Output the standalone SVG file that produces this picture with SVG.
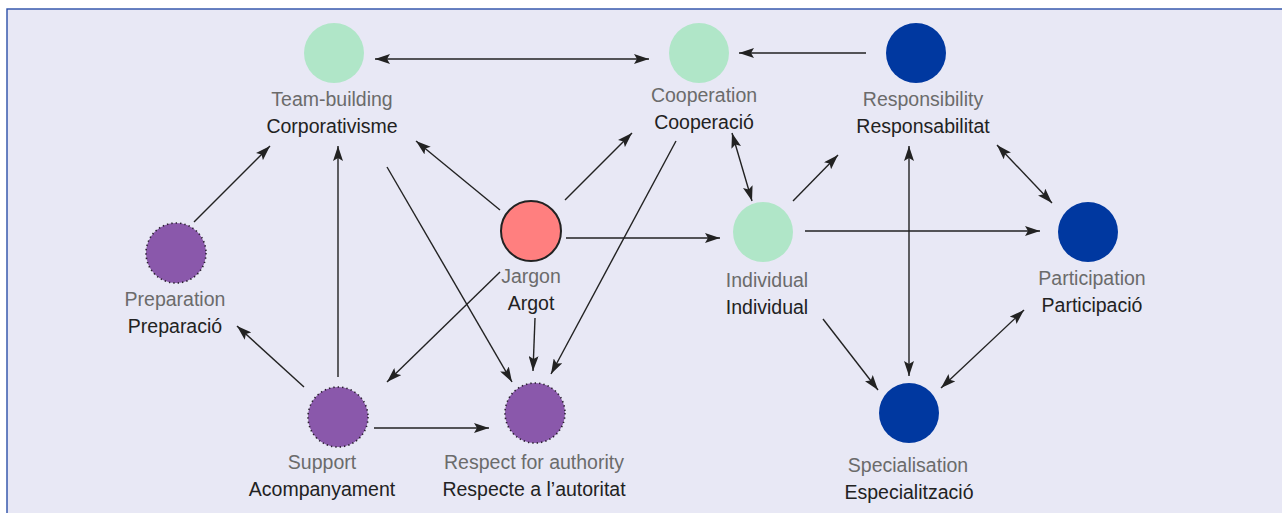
<svg xmlns="http://www.w3.org/2000/svg" width="1282" height="513" viewBox="0 0 1282 513">
<style>
.en{font-family:"Liberation Sans",Arial,sans-serif;font-size:19.5px;fill:#6b6b6b;text-anchor:middle}
.ca{font-family:"Liberation Sans",Arial,sans-serif;font-size:19.5px;fill:#222;text-anchor:middle}
.green{fill:#b0e6c8}
.blue{fill:#0038a0}
.purple{fill:#8a58ab;stroke:#2a2030;stroke-width:1.6;stroke-dasharray:1.4 3}
.red{fill:#ff7f7f;stroke:#222;stroke-width:2}
.c line{stroke:#222;stroke-width:1.4;fill:none}
.one{marker-end:url(#ah)}
.two{marker-end:url(#ah);marker-start:url(#ah)}
</style>
<defs>
<marker id="ah" viewBox="0 0 15 10" refX="15" refY="5" markerWidth="15" markerHeight="10" orient="auto-start-reverse" markerUnits="userSpaceOnUse">
<path d="M0,0 L15,5 L0,10 L3,5 z" fill="#222"/>
</marker>
</defs>
<rect x="0" y="0" width="1282" height="513" fill="#ffffff"/>
<rect x="7" y="9" width="1300" height="600" fill="#e8e8f5" stroke="#2b4fa8" stroke-width="1.4"/>
<g id="connectors" class="c">
<line class="two" x1="375" y1="59" x2="649" y2="59"/>
<line class="one" x1="866" y1="53" x2="739" y2="53"/>
<line class="one" x1="500" y1="210" x2="416" y2="141"/>
<line class="one" x1="565" y1="200" x2="632" y2="133"/>
<line class="one" x1="566" y1="238" x2="720" y2="238"/>
<line class="one" x1="500" y1="272" x2="387" y2="382"/>
<line class="one" x1="535" y1="318" x2="533" y2="371"/>
<line class="one" x1="676" y1="141" x2="551" y2="374"/>
<line class="one" x1="387" y1="167" x2="512" y2="382"/>
<line class="one" x1="338" y1="377" x2="338" y2="146"/>
<line class="one" x1="194" y1="222" x2="270" y2="146"/>
<line class="one" x1="304" y1="387" x2="237" y2="326"/>
<line class="one" x1="374" y1="428" x2="489" y2="428"/>
<line class="two" x1="732" y1="133" x2="752" y2="201"/>
<line class="one" x1="793" y1="201" x2="838" y2="155"/>
<line class="one" x1="805" y1="231" x2="1040" y2="231"/>
<line class="two" x1="909" y1="146" x2="909" y2="376"/>
<line class="two" x1="997" y1="145" x2="1052" y2="203"/>
<line class="one" x1="823" y1="319" x2="878" y2="390"/>
<line class="two" x1="1024" y1="310" x2="941" y2="388"/>
</g>
<g id="team-building">
<circle class="green" cx="334" cy="53" r="30"/>
<text class="en" x="332" y="106">Team-building</text>
<text class="ca" x="332" y="133">Corporativisme</text>
</g>
<g id="cooperation">
<circle class="green" cx="699" cy="53" r="30"/>
<text class="en" x="704" y="102">Cooperation</text>
<text class="ca" x="704" y="129">Cooperació</text>
</g>
<g id="responsibility">
<circle class="blue" cx="916" cy="53" r="30"/>
<text class="en" x="923" y="106">Responsibility</text>
<text class="ca" x="923" y="133">Responsabilitat</text>
</g>
<g id="jargon">
<circle class="red" cx="531" cy="231" r="30"/>
<text class="en" x="531" y="283">Jargon</text>
<text class="ca" x="531" y="310">Argot</text>
</g>
<g id="preparation">
<circle class="purple" cx="176" cy="253" r="30"/>
<text class="en" x="175" y="306">Preparation</text>
<text class="ca" x="175" y="333">Preparació</text>
</g>
<g id="individual">
<circle class="green" cx="763" cy="232" r="30"/>
<text class="en" x="767" y="287">Individual</text>
<text class="ca" x="767" y="314">Individual</text>
</g>
<g id="participation">
<circle class="blue" cx="1088" cy="232" r="30"/>
<text class="en" x="1092" y="285">Participation</text>
<text class="ca" x="1092" y="312">Participació</text>
</g>
<g id="support">
<circle class="purple" cx="338" cy="417" r="30"/>
<text class="en" x="322" y="469">Support</text>
<text class="ca" x="322" y="496">Acompanyament</text>
</g>
<g id="respect">
<circle class="purple" cx="535" cy="413" r="30"/>
<text class="en" x="534" y="469">Respect for authority</text>
<text class="ca" x="534" y="496">Respecte a l’autoritat</text>
</g>
<g id="specialisation">
<circle class="blue" cx="909" cy="413" r="30"/>
<text class="en" x="908" y="472">Specialisation</text>
<text class="ca" x="909" y="499">Especialització</text>
</g>
</svg>
